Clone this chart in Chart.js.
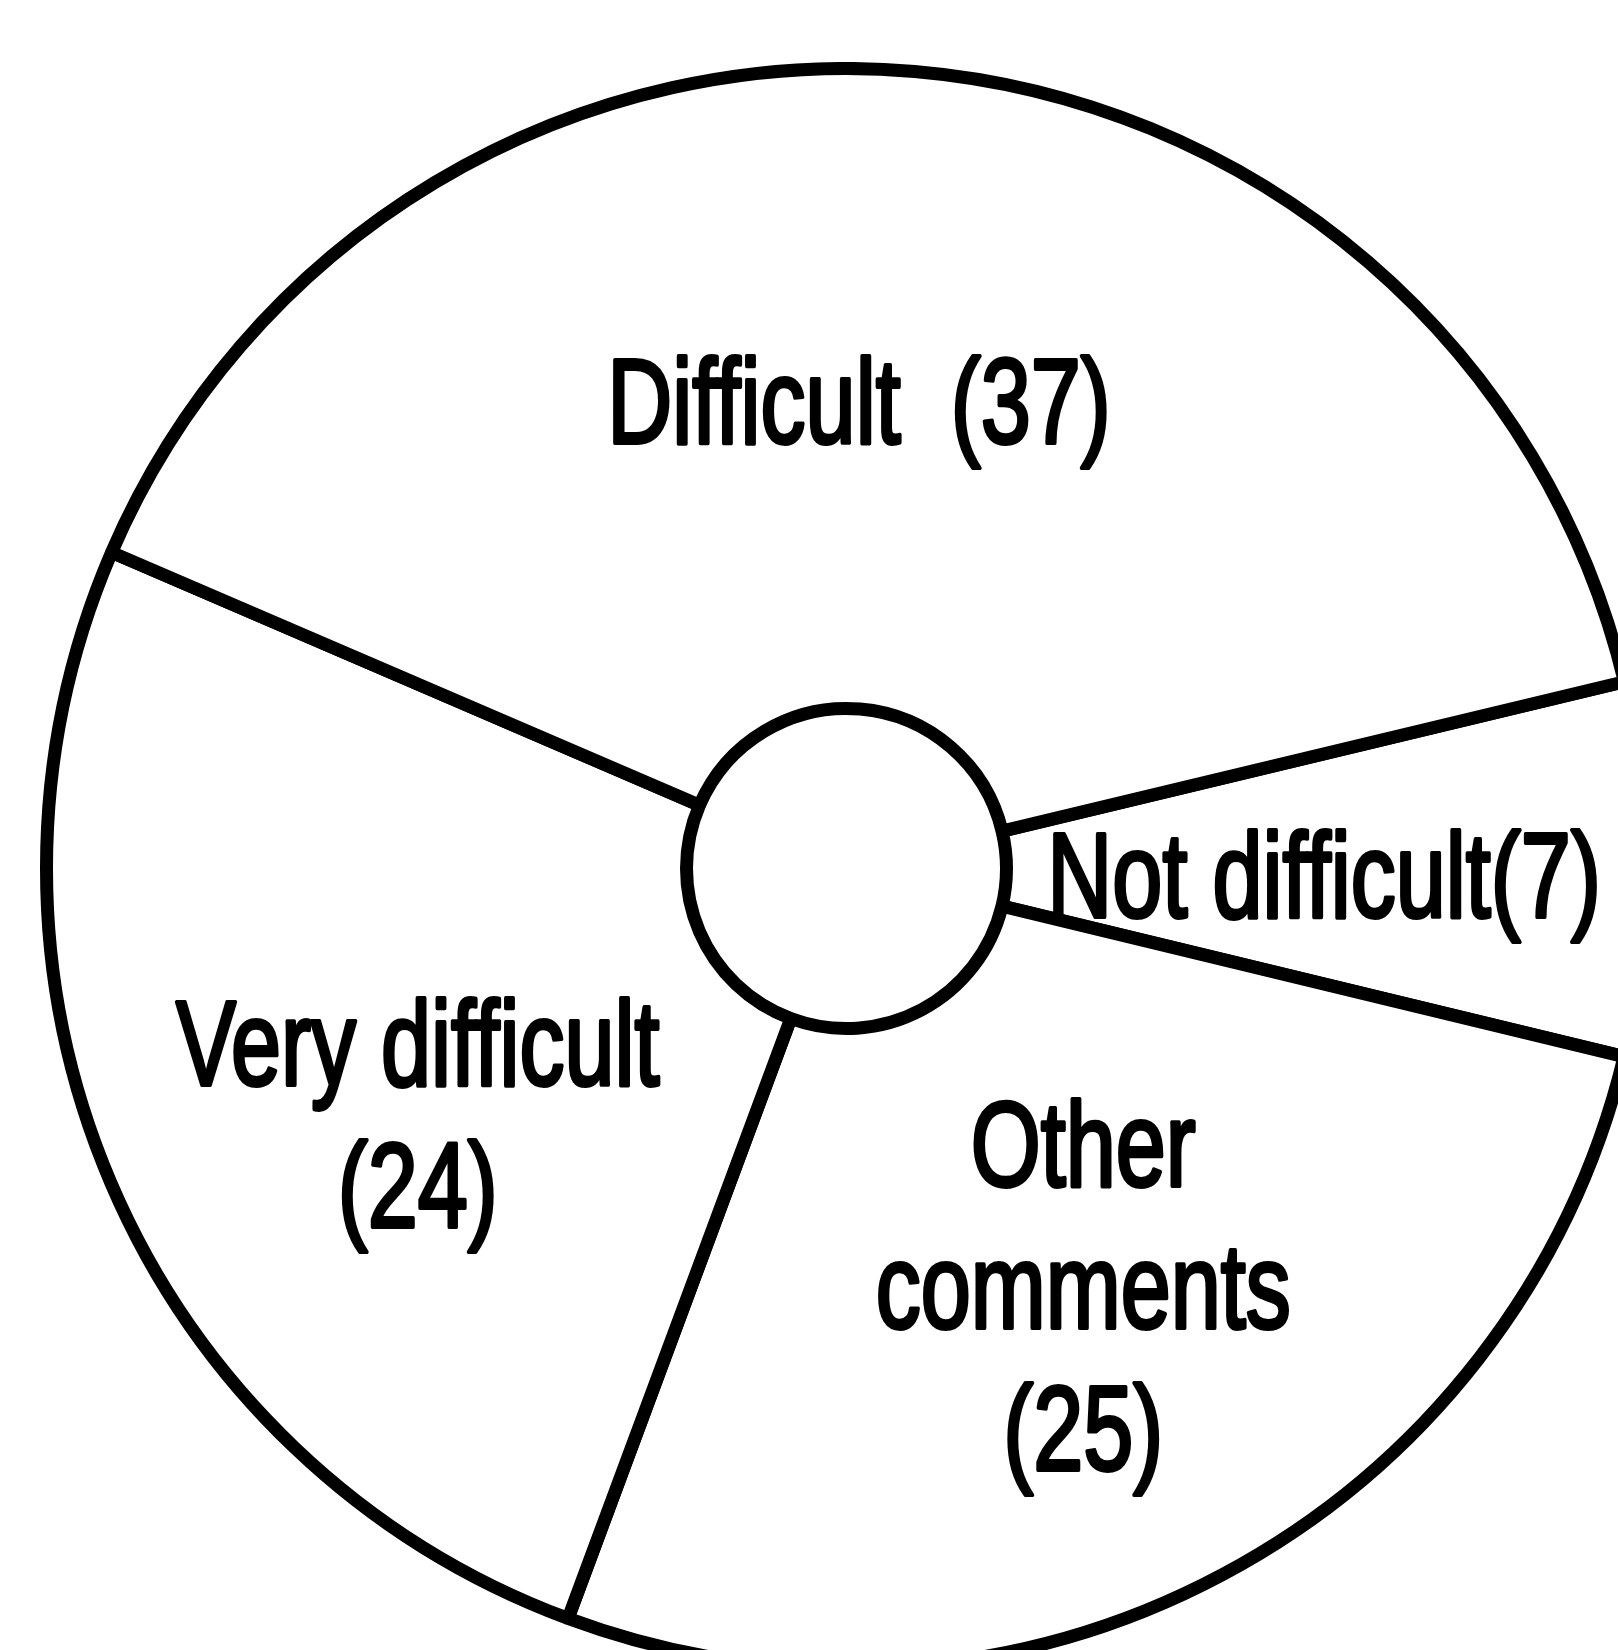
<!DOCTYPE html>
<html><head><meta charset="utf-8">
<script src="https://cdn.jsdelivr.net/npm/chart.js@4/dist/chart.umd.min.js"></script>
<style>
html,body{margin:0;padding:0;background:#fff;width:1618px;height:1650px;overflow:hidden;}
#wrap{position:absolute;left:40px;top:62px;width:1613px;height:1613px;}
</style></head><body>
<div id="wrap"><canvas id="c" width="1613" height="1613"></canvas></div>
<script>
// ---- data ----
const categories = ['Not difficult', 'Other comments', 'Very difficult', 'Difficult'];
const counts = [7, 25, 24, 37];
const labelText = [
  ['Not difficult(7)'],
  ['Other', 'comments', '(25)'],
  ['Very difficult', '(24)'],
  ['Difficult  (37)']
];

// ---- label layout (relative to chart centre, in units of outer radius) ----
const labelLayout = [
  {fx: 0.597, fy: 0.0606},
  {fx: 0.296, fy: 0.397},
  {fx: -0.536, fy: 0.271},
  {fx: 0.0156, fy: -0.532}
];

const labelPlugin = {
  id: 'sliceLabels',
  afterDatasetsDraw(chart) {
    const meta = chart.getDatasetMeta(0);
    const c = chart.ctx;
    meta.data.forEach((arc, i) => {
      const R = arc.outerRadius;
      const lay = labelLayout[i];
      const size = R * 0.15;
      const step = R * 0.1775;
      c.save();
      c.font = size + 'px "Liberation Sans", Arial, sans-serif';
      c.fillStyle = '#000';
      c.strokeStyle = '#000';
      c.lineWidth = 4;
      c.lineJoin = 'round';
      c.textAlign = 'center';
      c.textBaseline = 'alphabetic';
      labelText[i].forEach((t, k) => {
        c.save();
        c.translate(arc.x + lay.fx * R, arc.y + lay.fy * R + k * step);
        c.scale(0.75, 1);
        c.fillText(t, 0, 0);
        c.strokeText(t, 0, 0);
        c.restore();
      });
      c.restore();
    });
  }
};

new Chart(document.getElementById('c'), {
  type: 'doughnut',
  data: {
    labels: categories,
    datasets: [{
      data: counts,
      backgroundColor: '#ffffff',
      borderColor: '#000000',
      borderWidth: 13,
      hoverBorderWidth: 13,
      hoverOffset: 0,
      offset: 0
    }]
  },
  options: {
    responsive: false,
    animation: false,
    events: [],
    rotation: 76.5,
    cutout: '20%',
    layout: {padding: 0},
    plugins: {legend: {display: false}, tooltip: {enabled: false}}
  },
  plugins: [labelPlugin]
});
</script>
</body></html>
